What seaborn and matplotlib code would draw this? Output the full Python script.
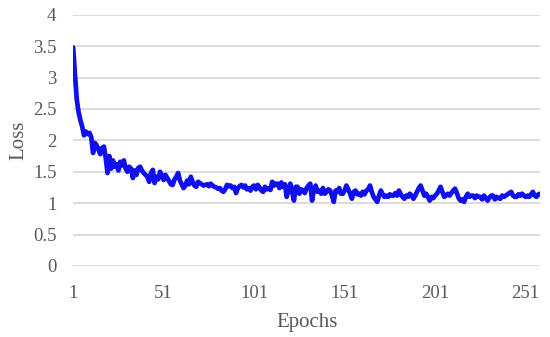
import numpy as np
import pandas as pd
import matplotlib
matplotlib.use("Agg")
import matplotlib.pyplot as plt
import seaborn as sns

# loss values, one per epoch
loss = [
    3.48, 3.05, 2.65, 2.45, 2.32, 2.22, 2.08, 2.14, 2.10, 2.12,
    2.05, 1.80, 1.96, 1.92, 1.85, 1.78, 1.88, 1.90, 1.72, 1.48,
    1.75, 1.55, 1.68, 1.58, 1.62, 1.52, 1.66, 1.60, 1.68, 1.55,
    1.50, 1.58, 1.55, 1.40, 1.52, 1.45, 1.56, 1.58, 1.52, 1.48,
    1.45, 1.42, 1.34, 1.48, 1.53, 1.32, 1.42, 1.38, 1.50, 1.44,
    1.37, 1.45, 1.40, 1.35, 1.30, 1.29, 1.38, 1.42, 1.48, 1.36,
    1.30, 1.24, 1.28, 1.36, 1.30, 1.42, 1.34, 1.28, 1.26, 1.34,
    1.32, 1.30, 1.28, 1.29, 1.30, 1.27, 1.31, 1.28, 1.26, 1.25,
    1.23, 1.24, 1.20, 1.18, 1.22, 1.29, 1.27, 1.28, 1.24, 1.26,
    1.16, 1.24, 1.27, 1.29, 1.25, 1.28, 1.22, 1.24, 1.20, 1.26,
    1.28, 1.22, 1.29, 1.25, 1.20, 1.18, 1.26, 1.22, 1.24, 1.21,
    1.34, 1.28, 1.31, 1.31, 1.24, 1.33, 1.26, 1.30, 1.10, 1.22,
    1.31, 1.18, 1.04, 1.26, 1.26, 1.15, 1.22, 1.20, 1.16, 1.24,
    1.28, 1.31, 1.04, 1.22, 1.28, 1.18, 1.20, 1.15, 1.24, 1.15,
    1.18, 1.22, 1.20, 1.12, 1.02, 1.20, 1.18, 1.24, 1.15, 1.15,
    1.20, 1.28, 1.22, 1.15, 1.07, 1.18, 1.20, 1.14, 1.15, 1.12,
    1.18, 1.14, 1.20, 1.22, 1.28, 1.18, 1.10, 1.06, 1.02, 1.12,
    1.20, 1.14, 1.10, 1.12, 1.10, 1.14, 1.12, 1.12, 1.16, 1.12,
    1.20, 1.14, 1.10, 1.07, 1.12, 1.10, 1.15, 1.12, 1.07, 1.12,
    1.18, 1.24, 1.28, 1.20, 1.12, 1.15, 1.10, 1.04, 1.10, 1.08,
    1.12, 1.15, 1.20, 1.26, 1.18, 1.10, 1.12, 1.15, 1.12, 1.16,
    1.20, 1.23, 1.16, 1.08, 1.04, 1.06, 1.02, 1.10, 1.15, 1.10,
    1.12, 1.12, 1.08, 1.12, 1.10, 1.10, 1.06, 1.12, 1.08, 1.04,
    1.09, 1.12, 1.12, 1.06, 1.10, 1.08, 1.07, 1.12, 1.10, 1.12,
    1.14, 1.16, 1.18, 1.12, 1.10, 1.10, 1.14, 1.12, 1.15, 1.12,
    1.10, 1.12, 1.10, 1.14, 1.18, 1.12, 1.10, 1.14, 1.15,
]
epochs = list(range(1, len(loss) + 1))
x_ticks = [1, 51, 101, 151, 201, 251]
y_ticks = [0, 0.5, 1, 1.5, 2, 2.5, 3, 3.5, 4]

df = pd.DataFrame({"Epochs": epochs, "Loss": loss})

sns.set_theme(style="white")
plt.rcParams['font.family'] = ['Liberation Serif', 'DejaVu Serif']

fig = plt.figure(figsize=(5.5, 3.37), dpi=100)
ax = fig.add_axes([0.133, 0.211, 0.849, 0.745])

sns.lineplot(data=df, x="Epochs", y="Loss", ax=ax, color="#1010ee", linewidth=3.4)

ax.set_xlim(1, len(loss))
ax.set_ylim(0, 4)
ax.set_xticks(x_ticks)
ax.set_yticks(y_ticks)
ax.set_yticklabels([("%g" % v) for v in y_ticks])
ax.yaxis.grid(True, color="#d9d9d9", linewidth=1.3)
ax.xaxis.grid(False)
ax.set_axisbelow(True)
for s in ax.spines.values():
    s.set_visible(False)
ax.tick_params(axis="both", length=0, labelsize=13.5, labelcolor="#595959")
ax.tick_params(axis="x", pad=14)
ax.tick_params(axis="y", pad=12)
ax.set_xlabel("Epochs", fontsize=15, color="#595959", labelpad=8)
ax.set_ylabel("Loss", fontsize=15, color="#595959", labelpad=3)

fig.savefig("out.png", dpi=100)
